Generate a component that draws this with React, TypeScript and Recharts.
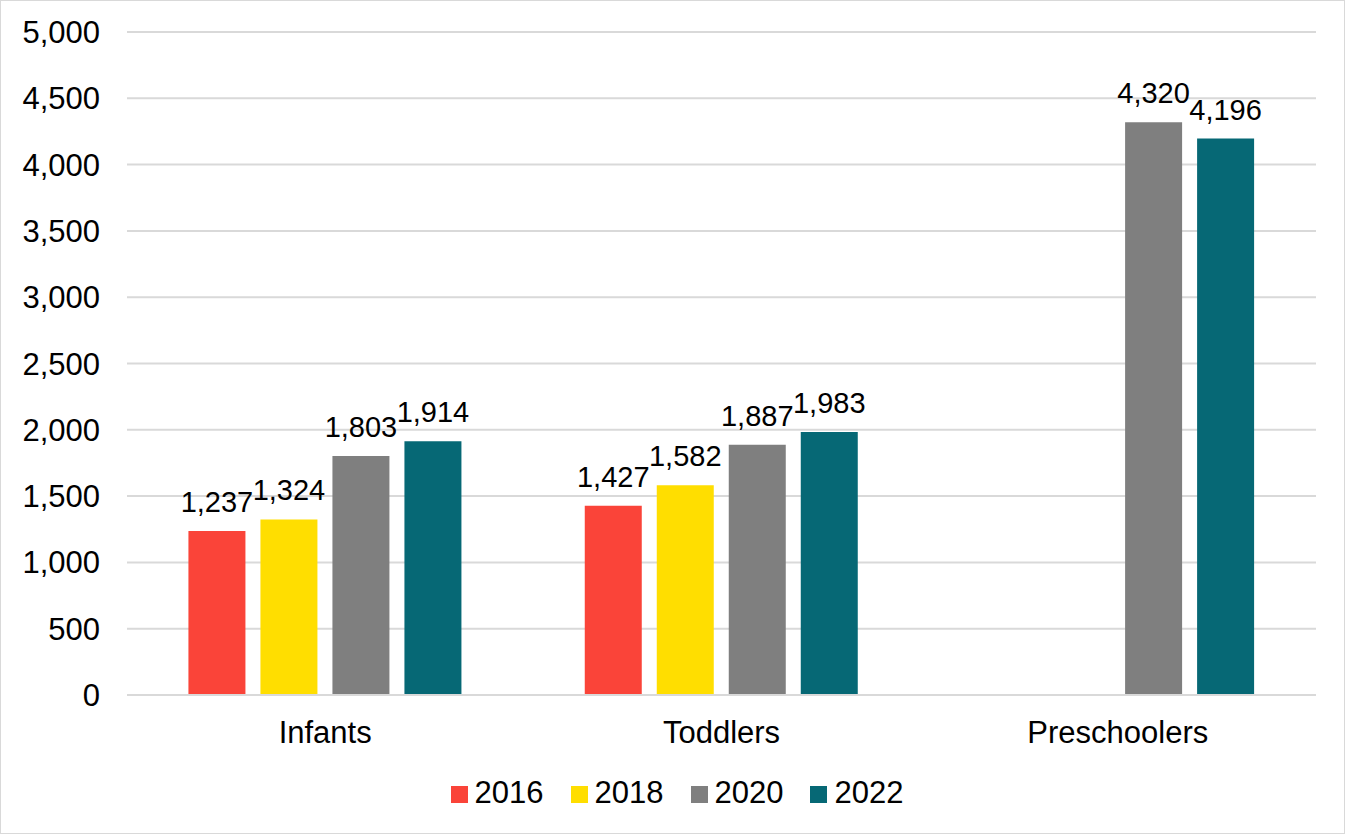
import React from 'react';
import { BarChart, Bar, XAxis, YAxis, CartesianGrid, Legend, LabelList } from 'recharts';

const categories = ['Infants', 'Toddlers', 'Preschoolers'];
const s2016: (number | null)[] = [1237, 1427, null];
const s2018: (number | null)[] = [1324, 1582, null];
const s2020: (number | null)[] = [1803, 1887, 4320];
const s2022: (number | null)[] = [1914, 1983, 4196];
const yTicks = [0, 500, 1000, 1500, 2000, 2500, 3000, 3500, 4000, 4500, 5000];

const series = [
  { key: 'y2016', name: '2016', color: '#FA4439', values: s2016 },
  { key: 'y2018', name: '2018', color: '#FFDE00', values: s2018 },
  { key: 'y2020', name: '2020', color: '#7F7F7F', values: s2020 },
  { key: 'y2022', name: '2022', color: '#066875', values: s2022 },
];

const data = categories.map((c, i) => {
  const row: Record<string, any> = { category: c };
  series.forEach((s) => { row[s.key] = s.values[i]; });
  return row;
});

const fmt = (v: any) => (v == null ? '' : Number(v).toLocaleString('en-US'));
const FONT = 'Liberation Sans, Arial, sans-serif';

export default function App() {
  return (
    <div style={{ position: 'absolute', left: 0, top: 0, width: 1343, height: 832, border: '1px solid #D9D9D9', background: '#fff', fontFamily: FONT }}>
      <BarChart
        width={1343}
        height={832}
        data={data}
        margin={{ top: 31, right: 28, left: 0, bottom: 22 }}
        barCategoryGap="15.5%"
        barGap={15}
      >
        <CartesianGrid vertical={false} stroke="#D9D9D9" strokeWidth={2} />
        <XAxis
          dataKey="category"
          axisLine={{ stroke: '#D9D9D9', strokeWidth: 2 }}
          tickLine={false}
          tickMargin={20}
          height={80}
          tick={{ fill: '#000', fontSize: 31, fontFamily: FONT }}
        />
        <YAxis
          domain={[0, 5000]}
          ticks={yTicks}
          interval={0}
          axisLine={false}
          tickLine={false}
          tickSize={0}
          tickMargin={27}
          width={126}
          tickFormatter={fmt}
          tick={{ fill: '#000', fontSize: 31, fontFamily: FONT }}
        />
        <Legend
          verticalAlign="bottom"
          align="center"
          iconType="square"
          iconSize={17}
          wrapperStyle={{ fontSize: 31, fontFamily: FONT, paddingLeft: 32 }}
          formatter={(value: string) => (
            <span style={{ color: '#000', paddingLeft: 3, paddingRight: 17 }}>{value}</span>
          )}
        />
        {series.map((s) => (
          <Bar key={s.key} dataKey={s.key} name={s.name} fill={s.color} isAnimationActive={false}>
            <LabelList dataKey={s.key} position="top" offset={19} formatter={fmt} fill="#000" fontSize={29} fontFamily={FONT} />
          </Bar>
        ))}
      </BarChart>
    </div>
  );
}
